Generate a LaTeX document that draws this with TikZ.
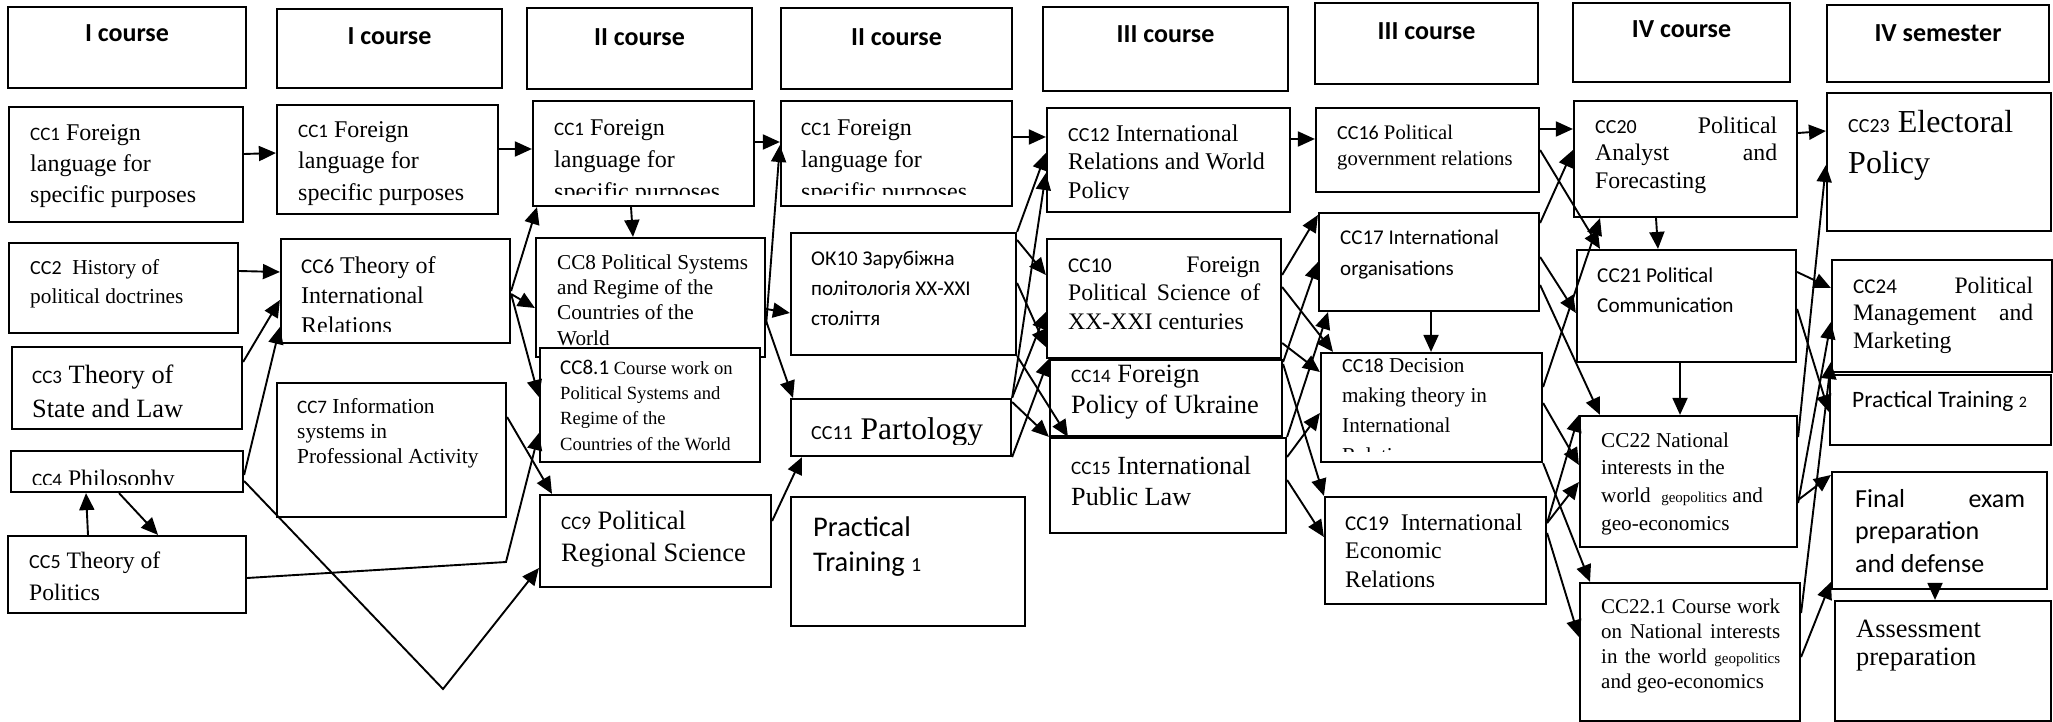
\documentclass[tikz,border=0pt]{standalone}
\usepackage{fontspec}
\setmainfont{Liberation Serif}
\newfontfamily\calfont{Carlito}
\usetikzlibrary{arrows.meta,calc}
\tikzset{
  box/.style={draw, line width=2.2pt, fill=white, inner sep=0pt},
  txt/.style={inner sep=0pt, anchor=north west, align=left},
  hd/.style={font=\calfont\bfseries\fontsize{26}{30}\selectfont, anchor=base, inner sep=0pt},
  arr/.style={line width=1.9pt, -{Triangle[length=17pt,width=15pt]}},
}
\newcommand\mkbox[5]{\node[box,minimum width={(#4-#2)*1pt},minimum height={(#5-#3)*1pt}] (#1) at ({(#2+#4)/2},{(#3+#5)/2}) {};}
\newcommand\mktext[8][]{\node[txt,font={#7\fontsize{#5}{#6}\selectfont},#1] (#2) at (#3,{#4-0.85*#5}) {\rule{0pt}{.85em}#8};}
\newcommand\cclab[2][19]{{\calfont\fontsize{#1}{#1}\selectfont #2}}
\begin{document}
\begin{tikzpicture}[x=1pt,y=-1pt]
\useasboundingbox (0,0) rectangle (2053,722);
% headers
\mkbox{h1}{8}{7}{246}{88}     \node[hd] (h1t) at (127,42) {I course};
\mkbox{h2}{277}{9}{502}{88}   \node[hd] (h2t) at (389.5,45) {I course};
\mkbox{h3}{527}{8}{752}{89}   \node[hd] (h3t) at (639.5,45.5) {II course};
\mkbox{h4}{781}{8}{1012}{89}  \node[hd] (h4t) at (896.5,45.5) {II course};
\mkbox{h5}{1043}{7}{1288}{91} \node[hd] (h5t) at (1165.5,43) {III course};
\mkbox{h6}{1315}{3}{1538}{84} \node[hd] (h6t) at (1426.5,39.5) {III course};
\mkbox{h7}{1573}{3}{1790}{82} \node[hd] (h7t) at (1681.5,38) {IV course};
\mkbox{h8}{1827}{5}{2049}{82} \node[hd] (h8t) at (1938,42) {IV semester};
% column 1
\mkbox{cc1a}{9}{107}{243}{222}
\mktext{t1a}{30}{140}{24}{31}{\rmfamily}{\cclab{CC1} Foreign\\language for\\specific purposes}
\mkbox{cc2}{9}{243}{238}{333}
\mktext{t2}{30}{274}{21.3}{29}{\rmfamily}{\cclab[20]{CC2}\ \ History of\\political doctrines}
\mkbox{cc3}{12}{347}{242}{429}
\mktext{t3}{32}{383}{26.4}{34}{\rmfamily}{\cclab{CC3} Theory of\\State and Law}
\mkbox{cc4}{11}{451}{243}{492}
\begin{scope}\clip (cc4.north west) rectangle (cc4.east |- 0,484);
\mktext{t4}{32}{486}{23.7}{28}{\rmfamily}{\cclab{CC4} Philosophy}
\end{scope}
\mkbox{cc5}{8}{536}{246}{613}
\mktext{t5}{29}{568}{23.6}{32}{\rmfamily}{\cclab[20]{CC5} Theory of\\Politics}
% column 2
\mkbox{cc1b}{277}{105}{498}{214}
\mktext{t1b}{298}{137}{24}{31.5}{\rmfamily}{\cclab{CC1} Foreign\\language for\\specific purposes}
\mkbox{cc6}{281}{239}{510}{343}
\begin{scope}\clip (cc6.north west) rectangle (cc6.east |- 0,331);
\mktext{t6}{301}{273}{24}{30}{\rmfamily}{\cclab[21]{CC6} Theory of\\International\\Relations}
\end{scope}
\mkbox{cc7}{277}{383}{506}{517}
\mktext{t7}{297}{413}{21.4}{25}{\rmfamily}{\cclab{CC7} Information\\systems in\\Professional Activity}
% column 3
\mkbox{cc1c}{533}{101}{754}{206}
\begin{scope}\clip (cc1c.north west) rectangle (cc1c.east |- 0,195);
\mktext{t1c}{554}{135}{24}{32}{\rmfamily}{\cclab{CC1} Foreign\\language for\\specific purposes}
\end{scope}
\mkbox{cc8}{536}{238}{765}{357}
\mktext{t8}{557}{269}{21.2}{25.3}{\rmfamily}{CC8 Political Systems\\and Regime of the\\Countries of the\\World}
\mkbox{cc81}{540}{348}{760}{462}
\mktext{t81}{560}{374}{18.6}{25.3}{\rmfamily}{\cclab[21]{CC8.1} Course work on\\Political Systems and\\Regime of the\\Countries of the World}
\mkbox{cc9}{540}{495}{771}{587}
\mktext{t9}{561}{529}{26.5}{32}{\rmfamily}{\cclab{CC9} Political\\Regional Science}
% column 4
\mkbox{cc1d}{781}{101}{1012}{206}
\begin{scope}\clip (cc1d.north west) rectangle (cc1d.east |- 0,195);
\mktext{t1d}{801}{135}{24}{32}{\rmfamily}{\cclab{CC1} Foreign\\language for\\specific purposes}
\end{scope}
\mkbox{ok10}{791}{233}{1016}{355}
\mktext{tok}{811}{265}{21}{30}{\calfont}{ОК10 Зарубіжна\\політологія ХХ-ХХІ\\століття}
\mkbox{cc11}{791}{399}{1011}{456}
\begin{scope}\clip (cc11.north west) rectangle (cc11.east |- 0,444);
\mktext{t11}{811}{439}{31.5}{36}{\rmfamily}{\cclab[20]{CC11} Partology}
\end{scope}
\mkbox{pt1}{791}{497}{1025}{626}
\mktext{tp1}{813}{536}{28.5}{35}{\calfont}{Practical\\Training {\fontsize{20}{20}\selectfont 1}}
% column 5
\mkbox{cc12}{1047}{108}{1290}{212}
\begin{scope}\clip (cc12.north west) rectangle (cc12.east |- 0,200);
\mktext{t12}{1068}{141}{24}{28.5}{\rmfamily}{\cclab[20]{CC12} International\\Relations and World\\Policy}
\end{scope}
\mkbox{cc10}{1047}{239}{1281}{358}
\mktext[text width=192pt,align=justify]{t10}{1068}{272}{23.7}{28.5}{\rmfamily}{\cclab[21]{CC10} Foreign\linebreak Political Science of\linebreak XX-XXI centuries}
\mkbox{cc14}{1050}{360}{1282}{436}
\mktext{t14}{1071}{382}{26.4}{31}{\rmfamily}{\cclab{CC14} Foreign\\Policy of Ukraine}
\mkbox{cc15}{1050}{438}{1286}{533}
\mktext{t15}{1071}{474}{26.2}{31}{\rmfamily}{\cclab{CC15} International\\Public Law}
% column 6
\mkbox{cc16}{1316}{108}{1539}{192}
\mktext{t16}{1337}{139}{20.7}{26}{\rmfamily}{\cclab[20]{CC16} Political\\government relations}
\mkbox{cc17}{1319}{213}{1539}{311}
\mktext{t17}{1340}{244}{21}{31}{\calfont}{CC17 International\\organisations}
\mkbox{cc18}{1321}{353}{1542}{462}
\begin{scope}\clip (cc18.north west) rectangle (cc18.east |- 0,451);
\mktext{t18}{1342}{372}{21.2}{30}{\rmfamily}{\cclab[20]{CC18} Decision\\making theory in\\International\\Relations}
\end{scope}
\mkbox{cc19}{1325}{497}{1546}{604}
\mktext{t19}{1345}{530}{23.8}{28.5}{\rmfamily}{\cclab[21]{CC19}\ \ International\\Economic\\Relations}
% column 7
\mkbox{cc20}{1574}{101}{1797}{217}
\mktext[text width=182pt,align=justify]{t20}{1595}{133}{23.8}{27.5}{\rmfamily}{\cclab[20]{CC20} Political\linebreak Analyst and\linebreak Forecasting}
\mkbox{cc21}{1577}{250}{1796}{362}
\mktext{t21}{1597}{282}{21.2}{30}{\calfont}{CC21 Political\\Communication}
\mkbox{cc22}{1580}{416}{1797}{547}
\mktext{t22}{1601}{447}{21.2}{27.7}{\rmfamily}{CC22 National\\interests in the\\world\ \ {\fontsize{15}{15}\selectfont geopolitics} and\\geo-economics}
\mkbox{cc221}{1580}{583}{1800}{721}
\mktext[text width=179pt,align=justify]{t221}{1601}{613}{21}{25}{\rmfamily}{CC22.1 Course work\linebreak on National interests\linebreak in the world {\fontsize{15}{15}\selectfont geopolitics}\linebreak and geo-economics}
% column 8
\mkbox{cc23}{1827}{93}{2051}{231}
\mktext{t23}{1848}{132}{32}{41}{\rmfamily}{\cclab[20]{CC23} Electoral\\Policy}
\mkbox{cc24}{1832}{260}{2052}{372}
\mktext[text width=180pt,align=justify]{t24}{1853}{293}{23.6}{27.5}{\rmfamily}{\cclab[21]{CC24} Political\linebreak Management and\linebreak Marketing}
\mkbox{pt2}{1830}{375}{2051}{445}
\mktext{tp2}{1852}{407}{23.5}{28}{\calfont}{Practical Training {\fontsize{16}{16}\selectfont 2}}
\mkbox{fin}{1832}{472}{2047}{589}
\mktext[text width=170pt,align=justify]{tfin}{1855}{507}{26}{32.5}{\calfont}{Final exam\linebreak preparation\linebreak and defense}
\mkbox{ass}{1835}{601}{2051}{721}
\mktext{tas}{1856}{637}{26.4}{28}{\rmfamily}{Assessment\\preparation}
% connectors I -> II
\draw[arr] (cc1a.east |- 0,154) -- (cc1b.west |- 0,153);
\draw[arr] (cc2.east |- 0,271) -- (cc6.west |- 0,272);
\draw[arr] (cc3.east |- 0,362) -- (cc6.west |- 0,300);
\draw[arr] (cc4.east |- 0,475) -- (cc6.west |- 0,327);
\draw[arr] (cc5.north -| 88,0) -- (cc4.south -| 86,0);
\draw[arr] (cc4.south -| 119,0) -- (cc5.north -| 158,0);
\coordinate (vtip) at (443,689);
\draw[arr] (cc4.east |- 0,481) -- (vtip) -- (cc9.west |- 0,568);
\coordinate (kink) at (506,562);
\draw[arr] (cc5.east |- 0,578) -- (kink) -- (cc81.west |- 0,433);
\draw[arr] (cc7.east |- 0,417) -- (cc9.north -| 552,0);
% II
\draw[arr] (cc1b.east |- 0,149) -- (cc1c.west |- 0,149);
\draw[arr] (cc6.east |- 0,291) -- (cc1c.south -| 537,0);
\draw[arr] (cc6.east |- 0,294) -- (cc8.west |- 0,308);
\draw[arr] (cc6.east |- 0,294) -- (cc81.west |- 0,397);
\draw[arr] (cc1c.south -| 631,0) -- (cc8.north -| 633,0);
\draw[arr] (cc1c.east |- 0,142) -- (cc1d.west |- 0,142);
\draw[arr] (cc8.east |- 0,325) -- (cc1d.west |- 0,145);
\draw[arr] (cc8.east |- 0,309) -- (ok10.west |- 0,313);
\draw[arr] (cc8.east |- 0,321) -- (cc11.north -| 793,0);
\draw[arr] (cc9.east |- 0,521) -- (cc11.south -| 802,0);
% II -> III
\draw[arr] (cc1d.east |- 0,137) -- (cc12.west |- 0,137);
\draw[arr] (ok10.north east) -- (cc12.west |- 0,153);
\draw[arr] (ok10.east |- 0,240) -- (cc10.west |- 0,275);
\draw[arr] (cc11.north east) -- (cc12.west |- 0,173);
\draw[arr] (ok10.east |- 0,283) -- (cc10.west |- 0,347);
\draw[arr] (cc11.north east) -- (cc10.west |- 0,312);
\draw[arr] (ok10.south east) -- (cc15.north -| 1068,0);
\draw[arr] (cc11.east |- 0,402) -- (cc15.north west);
\draw[arr] (cc11.south east) -- (cc14.north west);
% III
\draw[arr] (cc12.east |- 0,139) -- (cc16.west |- 0,139);
\draw[arr] (cc10.east |- 0,275) -- (cc17.west |- 0,215);
\draw[arr] (cc10.east |- 0,287) -- (cc18.north -| 1333,0);
\draw[arr] (cc14.east |- 0,362) -- (cc17.west |- 0,262);
\draw[arr] (cc10.east |- 0,343) -- (cc18.west |- 0,372);
\draw[arr] (cc15.north east) -- (cc17.south -| 1328,0);
\draw[arr] (cc14.east |- 0,364) -- (cc19.north west);
\draw[arr] (cc15.east |- 0,457) -- (cc18.west |- 0,413);
\draw[arr] (cc15.east |- 0,480) -- (cc19.west |- 0,537);
\draw[arr] (cc17.south -| 1431,0) -- (cc18.north -| 1431,0);
% III -> IV
\draw[arr] (cc16.east |- 0,129) -- (cc20.west |- 0,129);
\draw[arr] (cc16.east |- 0,150) -- (cc21.north -| 1600,0);
\draw[arr] (cc17.east |- 0,223) -- (cc20.west |- 0,150);
\draw[arr] (cc17.east |- 0,257) -- (cc21.west |- 0,313);
\draw[arr] (cc17.east |- 0,285) -- (cc22.north -| 1600,0);
\draw[arr] (cc18.east |- 0,387) -- (cc20.south -| 1600,0);
\draw[arr] (cc18.east |- 0,403) -- (cc22.west |- 0,465);
\draw[arr] (cc18.south east) -- (cc221.north -| 1590,0);
\draw[arr] (cc19.east |- 0,523) -- (cc22.north west);
\draw[arr] (cc19.east |- 0,523) -- (cc22.west |- 0,482);
\draw[arr] (cc19.east |- 0,533) -- (cc221.west |- 0,637);
\draw[arr] (cc20.south -| 1656,0) -- (cc21.north -| 1658,0);
\draw[arr] (cc21.south -| 1680,0) -- (cc22.north -| 1680,0);
% IV -> last column
\draw[arr] (cc20.east |- 0,133) -- (cc23.west |- 0,131);
\draw[arr] (cc22.east |- 0,437) -- (cc23.west |- 0,165);
\draw[arr] (cc21.east |- 0,272) -- (cc24.west |- 0,288);
\draw[arr] (cc21.east |- 0,309) -- (pt2.west |- 0,412);
\draw[arr] (cc22.east |- 0,503) -- (cc24.west |- 0,322);
\draw[arr] (cc22.east |- 0,500) -- (fin.west |- 0,475);
\draw[arr] (cc221.east |- 0,613) -- (cc24.west |- 0,362);
\draw[arr] (cc221.east |- 0,657) -- (fin.west |- 0,582);
\draw[arr] (fin.south -| 1935,0) -- (ass.north -| 1935,0);
\end{tikzpicture}
\end{document}
